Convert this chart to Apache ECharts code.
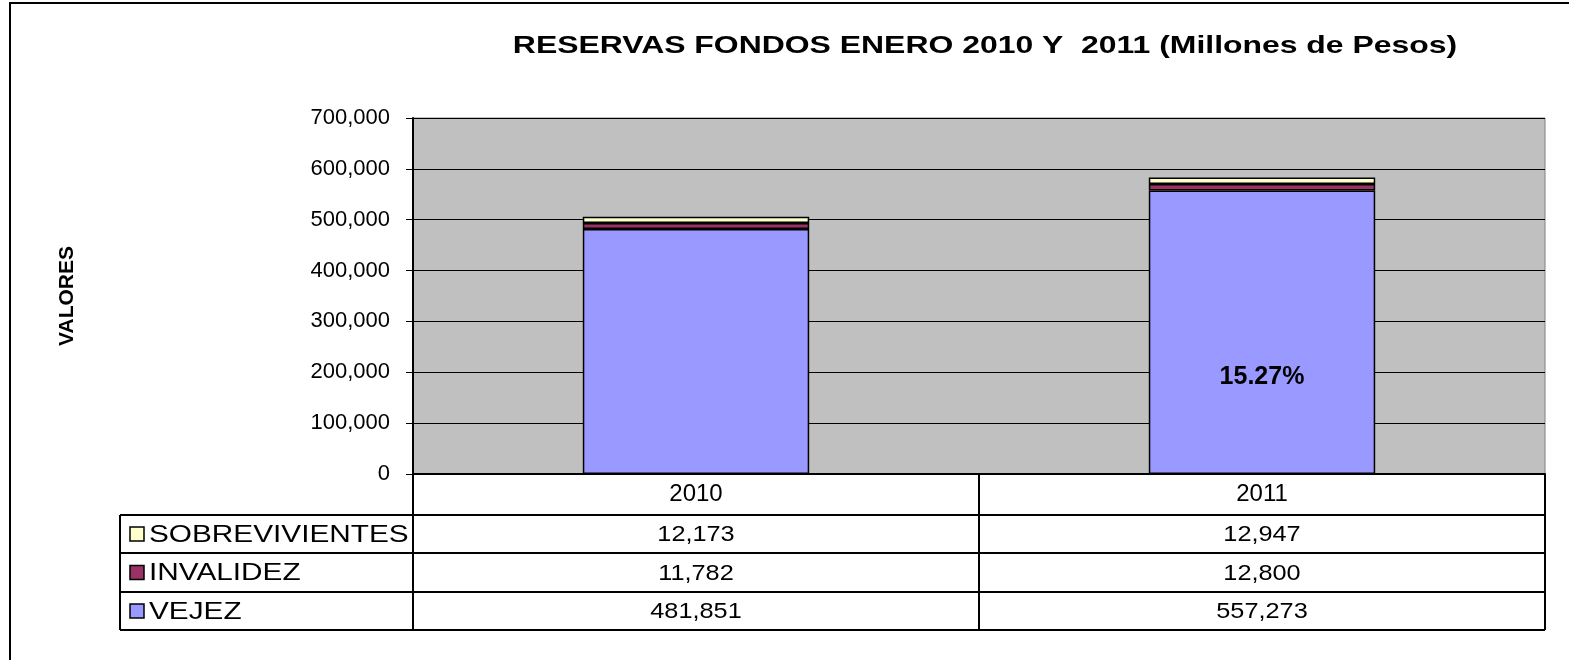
<!DOCTYPE html>
<html>
<head>
<meta charset="utf-8">
<script src="https://cdn.jsdelivr.net/npm/echarts@6/dist/echarts.min.js"></script>
<style>
  html, body { margin: 0; padding: 0; background: #fff; }
  #chart { width: 1569px; height: 660px; }
</style>
</head>
<body>
<div id="chart"></div>
<script>
const categories = ["2010", "2011"];
const vejez = [481851, 557273];
const invalidez = [11782, 12800];
const sobrevivientes = [12173, 12947];
const seriesNames = ["SOBREVIVIENTES", "INVALIDEZ", "VEJEZ"];
const colors = { VEJEZ: "#9999ff", INVALIDEZ: "#993366", SOBREVIVIENTES: "#ffffcc" };
const crecimiento = "15.27%";
const titulo = "RESERVAS FONDOS ENERO 2010 Y  2011 (Millones de Pesos)";

const font = "'Liberation Sans', Arial, sans-serif";
const fmt = v => v.toLocaleString("en-US");

const myChart = echarts.init(document.getElementById("chart"));

// grid: plot area box
const gridLeft = 413, gridRight = 24, gridTop = 118, gridBottom = 186;

function barSeries(name, data) {
  return {
    name: name,
    type: "bar",
    stack: "total",
    barWidth: "40%",
    data: data,
    itemStyle: { color: colors[name], borderColor: "#000", borderWidth: 1.5 },
    emphasis: { disabled: true }
  };
}

const option = {
  animation: false,
  backgroundColor: "#fff",
  textStyle: { fontFamily: font },
  grid: {
    left: gridLeft, right: gridRight, top: gridTop, bottom: gridBottom,
    show: true, backgroundColor: "#c0c0c0", borderColor: "#808080", borderWidth: 1
  },
  xAxis: {
    type: "category",
    data: categories,
    axisLine: { lineStyle: { color: "#000", width: 2 } },
    axisTick: { show: true, length: 156, lineStyle: { color: "#000", width: 2 } },
    axisLabel: { fontSize: 24, color: "#000", margin: 8 }
  },
  yAxis: {
    type: "value",
    min: 0, max: 700000, interval: 100000,
    name: "VALORES",
    nameLocation: "middle",
    nameGap: 335,
    nameRotate: 90,
    nameTextStyle: { fontSize: 21, fontWeight: "bold", color: "#000", fontFamily: font },
    axisLine: { show: true, lineStyle: { color: "#000", width: 2 } },
    axisTick: { show: true, length: 7, lineStyle: { color: "#000" } },
    axisLabel: { fontSize: 22, color: "#000", margin: 23, formatter: v => fmt(v) },
    splitLine: { lineStyle: { color: "#000", width: 1 } }
  },
  series: [
    barSeries("VEJEZ", vejez),
    barSeries("INVALIDEZ", invalidez),
    barSeries("SOBREVIVIENTES", sobrevivientes)
  ]
};

myChart.setOption(option);

// data table below the plot, built from the same arrays
const rowValues = { SOBREVIVIENTES: sobrevivientes, INVALIDEZ: invalidez, VEJEZ: vejez };
const plotRight = 1569 - gridRight;
const tableLeft = 120;
const rowTops = [515, 553, 592, 630];
const g = [];

// title (the original is drawn a bit wide)
g.push({
  type: "text",
  x: 985, y: 46, scaleX: 1.33,
  style: { text: titulo, font: "bold 24px " + font, fill: "#000",
    textAlign: "center", textVerticalAlign: "middle" }
});

rowTops.forEach(y => {
  g.push({
    type: "line",
    shape: { x1: tableLeft, y1: y, x2: plotRight, y2: y },
    style: { stroke: "#000", lineWidth: 2 }
  });
});
g.push({ type: "line", shape: { x1: tableLeft, y1: rowTops[0], x2: tableLeft, y2: rowTops[3] },
  style: { stroke: "#000", lineWidth: 2 } });

seriesNames.forEach((name, r) => {
  const cy = (rowTops[r] + rowTops[r + 1]) / 2;
  g.push({
    type: "rect",
    shape: { x: 130, y: cy - 7, width: 14, height: 14 },
    style: { fill: colors[name], stroke: "#000", lineWidth: 1.5 }
  });
  g.push({
    type: "text",
    x: 149, y: cy + 1, scaleX: 1.24,
    style: { text: name, font: "24px " + font, fill: "#000", textVerticalAlign: "middle" }
  });
  categories.forEach((c, ci) => {
    const px = myChart.convertToPixel({ xAxisIndex: 0 }, c);
    g.push({
      type: "text",
      x: px, y: cy + 1, scaleX: 1.15,
      style: { text: fmt(rowValues[name][ci]), font: "22px " + font, fill: "#000",
        textAlign: "center", textVerticalAlign: "middle" }
    });
  });
});

// growth annotation on the 2011 bar (above the bars)
g.push({
  type: "text",
  z: 100,
  x: myChart.convertToPixel({ xAxisIndex: 0 }, categories[1]), y: 377,
  style: { text: crecimiento, font: "bold 25px " + font, fill: "#000",
    textAlign: "center", textVerticalAlign: "middle" }
});

// outer chart frame (left and top edges visible)
g.push({ type: "polyline", shape: { points: [[10, 660], [10, 3], [1569, 3]] },
  style: { stroke: "#000", lineWidth: 2, fill: null } });

myChart.setOption({ graphic: g });
</script>
</body>
</html>
